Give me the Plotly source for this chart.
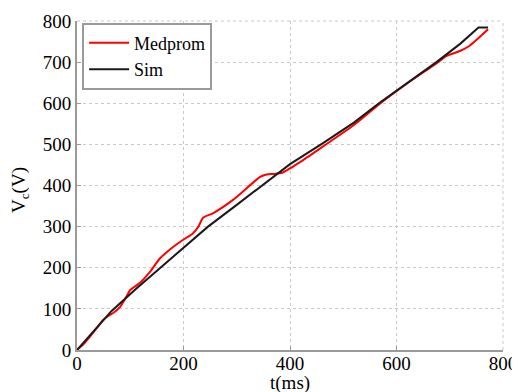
import plotly.graph_objects as go

# Sim (black) curve
sim_t = [0, 30, 65, 110, 156, 200, 246, 300, 348, 400, 462, 520, 567, 620, 675, 720, 754, 772]
sim_v = [0, 44, 95, 148, 200, 250, 300, 353, 400, 452, 503, 553, 600, 650, 700, 745, 784, 784]

# Medprom (red) curve
med_t = [0, 12, 24, 37, 49, 60, 68, 81, 92, 100, 118, 137, 156, 181, 198, 218, 228,
         237, 256, 293, 344, 356, 369, 385, 420, 462, 520, 567, 620, 675, 694, 719, 735, 750, 772]
med_v = [0, 14, 32, 53, 73, 84, 90, 105, 128, 146, 163, 190, 223, 251, 267, 284, 300,
         322, 333, 365, 421, 427, 428, 431, 458, 495, 547, 597, 648, 697, 715, 727, 738, 754, 780]

x_ticks = [0, 200, 400, 600, 800]
y_ticks = [0, 100, 200, 300, 400, 500, 600, 700, 800]

font_family = "Liberation Serif, DejaVu Serif, serif"
tfont = dict(family=font_family, size=19, color="black")

fig = go.Figure()
fig.add_trace(go.Scatter(x=med_t, y=med_v, mode="lines", name="Medprom",
                         line=dict(color="#ff0000", width=2, shape="spline", smoothing=0.6)))
fig.add_trace(go.Scatter(x=sim_t, y=sim_v, mode="lines", name="Sim",
                         line=dict(color="#1a1a1a", width=2)))

axis_common = dict(
    showgrid=True, gridcolor="#c8c8c8", griddash="dot", gridwidth=1,
    showline=True, linecolor="#9a9a9a", linewidth=2,
    ticks="inside", ticklen=4, tickcolor="#9a9a9a",
    zeroline=False, automargin=False,
    tickfont=tfont,
)

fig.update_xaxes(range=[0, 800], tickvals=x_ticks, ticktext=[str(v) for v in x_ticks],
                 ticklabelstandoff=-5, **axis_common)
fig.update_yaxes(range=[0, 800], tickvals=y_ticks, ticktext=[str(v) for v in y_ticks],
                 **axis_common)

# axis titles
fig.add_annotation(text="t(ms)", xref="paper", yref="paper", x=0.5, y=-0.1,
                   xanchor="center", yanchor="middle", showarrow=False, font=tfont)
fig.add_annotation(text="V<sub>c</sub>(V)", xref="paper", yref="paper", x=-0.134, y=0.486,
                   xanchor="center", yanchor="middle", textangle=-90, showarrow=False, font=tfont)

# dotted top and right borders
fig.add_shape(type="line", xref="paper", yref="paper", x0=0, x1=1, y0=1, y1=1,
              line=dict(color="#c8c8c8", width=1, dash="dot"))
fig.add_shape(type="line", xref="paper", yref="paper", x0=1, x1=1, y0=0, y1=1,
              line=dict(color="#c8c8c8", width=1, dash="dot"))

# page body has an 8px default margin, so the figure is 8px smaller and shifted
fig.update_layout(
    width=512, height=384,
    margin=dict(l=69, r=17, t=13, b=42),
    plot_bgcolor="white", paper_bgcolor="white",
    font=tfont,
    showlegend=True,
    legend=dict(x=0.012, y=0.995, xanchor="left", yanchor="top",
                bgcolor="white", bordercolor="#9a9a9a", borderwidth=2,
                font=dict(family=font_family, size=18, color="black"),
                tracegroupgap=0, itemwidth=40),
)

fig.write_html("out.html")
